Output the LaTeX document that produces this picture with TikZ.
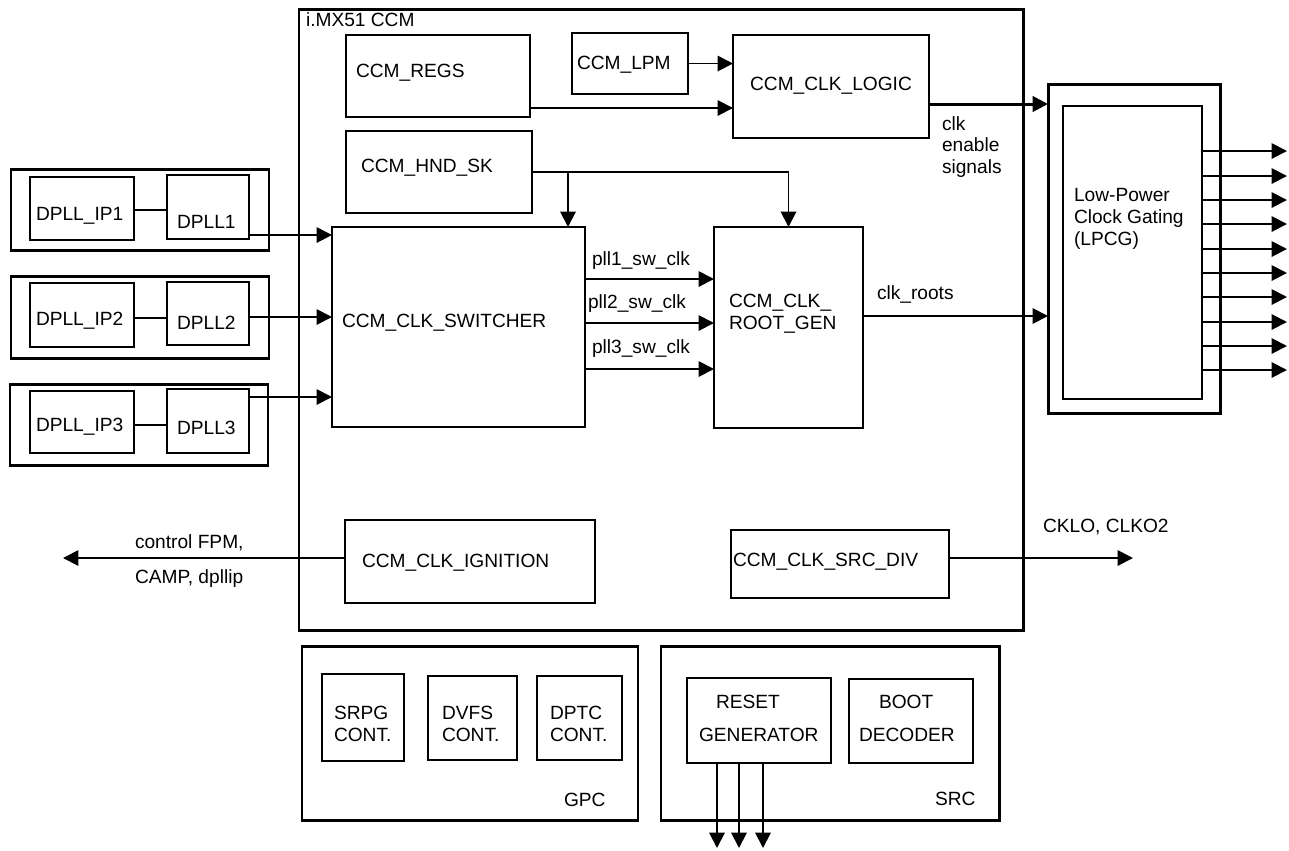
\documentclass[tikz,border=0pt]{standalone}
\usepackage{fontspec}
\setmainfont{Liberation Sans}
\usetikzlibrary{arrows.meta,fit}
\begin{document}
\begin{tikzpicture}[x=0.02cm,y=-0.02cm,
  every node/.style={font=\fontsize{10.9}{12.3}\selectfont, inner sep=0pt, outer sep=0pt},
  blk/.style={draw, line width=1.1pt, inner sep=0pt, outer sep=0pt},
  frame/.style={draw, line width=1.7pt, inner sep=0pt, outer sep=0pt},
  txt/.style={anchor=west, align=left},
  ln/.style={line width=1.1pt},
  arr/.style={line width=1.1pt, -{Triangle[length=0.31cm,width=0.31cm]}}]
\useasboundingbox (0,0) rectangle (1289,850);

% ---- CCM frame
\node[frame, fit={(299,9)(1023,630)}] (ccm) {};
\node[txt] (ccmlbl) at (306,20) {i.MX51 CCM};

\node[blk, fit={(346,35)(530,117)}] (regs) {};
\node[txt] (regst) at (356,73) {CCM\_REGS};
\node[blk, fit={(572,33)(688,94)}] (lpm) {};
\node[txt] (lpmt) at (577,65) {CCM\_LPM};
\node[blk, fit={(733,35)(929,138)}] (logic) {};
\node (logict) at (831,86) {CCM\_CLK\_LOGIC};
\node[blk, fit={(346,131)(532,213)}] (hnd) {};
\node[txt] (hndt) at (361,168) {CCM\_HND\_SK};
\node[blk, fit={(332,227)(585,427)}] (sw) {};
\node[txt] (swt) at (342,323) {CCM\_CLK\_SWITCHER};
\node[blk, fit={(714,227)(863,428)}] (root) {};
\node[txt, font=\fontsize{10.9}{12.6}\selectfont] (roott) at (729,314) {CCM\_CLK\_\\ROOT\_GEN};
\node[blk, fit={(345,520)(595,603)}] (ign) {};
\node[txt] (ignt) at (362,563) {CCM\_CLK\_IGNITION};
\node[blk, fit={(731,530)(949,598)}] (div) {};
\node[txt] (divt) at (733,562) {CCM\_CLK\_SRC\_DIV};

% ---- DPLL groups
\node[frame, fit={(11,169)(269,250)}] (g1) {};
\node[frame, fit={(11,276)(269,358)}] (g2) {};
\node[frame, fit={(10,384)(268,465)}] (g3) {};
\node[blk, fit={(30,177)(134,240)}] (ip1) {};
\node[blk, fit={(167,175)(249,239)}] (d1) {};
\node[blk, fit={(30,283)(134,347)}] (ip2) {};
\node[blk, fit={(167,282)(249,345)}] (d2) {};
\node[blk, fit={(30,391)(134,453)}] (ip3) {};
\node[blk, fit={(167,389)(249,453)}] (d3) {};
\node[txt] (ip1t) at (36,216) {DPLL\_IP1};
\node[txt] (d1t) at (177,222) {DPLL1};
\node[txt] (ip2t) at (36,321) {DPLL\_IP2};
\node[txt] (d2t) at (177,323) {DPLL2};
\node[txt] (ip3t) at (36,427) {DPLL\_IP3};
\node[txt] (d3t) at (177,428) {DPLL3};
\draw[ln] (ip1.east |- 0,210) -- (d1.west |- 0,210);
\draw[ln] (ip2.east |- 0,318) -- (d2.west |- 0,318);
\draw[ln] (ip3.east |- 0,425) -- (d3.west |- 0,425);
\draw[arr] (d1.east |- 0,235) -- (sw.west |- 0,235);
\draw[arr] (d2.east |- 0,317) -- (sw.west |- 0,317);
\draw[arr] (d3.east |- 0,397) -- (sw.west |- 0,397);

% ---- LPCG
\node[frame, fit={(1048,84)(1220,413)}] (lpcg) {};
\node[blk, fit={(1063,106)(1202,399)}] (lpcgin) {};
\node[txt, font=\fontsize{10.9}{12.4}\selectfont] (lpcgt) at (1074,219) {Low-Power\\Clock Gating\\(LPCG)};
\foreach \y in {151,176,200,224,249,273,297,322,346,370}
  \draw[arr] (lpcgin.east |- 0,\y) -- ++(85,0);

% ---- internal connectors
\draw[arr] (lpm.east) -- (lpm.east -| logic.west);
\draw[arr] (regs.east |- 0,108) -- (logic.west |- 0,108);
\draw[arr, line width=1.7pt] (logic.east |- 0,104) -- (lpcg.west |- 0,104);
\node[txt, font=\fontsize{10.9}{12.1}\selectfont] (clken) at (942,147) {clk\\enable\\signals};
\draw[arr] (hnd.east) -| (root.north);
\coordinate (br) at (568,172);
\draw[arr] (br) -- (br |- sw.north);
\foreach \y in {279,323,369}
  \draw[arr] (sw.east |- 0,\y) -- (root.west |- 0,\y);
\node[txt] (p1) at (592,261) {pll1\_sw\_clk};
\node[txt] (p2) at (588,304) {pll2\_sw\_clk};
\node[txt] (p3) at (592,349) {pll3\_sw\_clk};
\draw[arr] (root.east |- 0,316) -- (lpcg.west |- 0,316);
\node[txt] (rootsl) at (877,294) {clk\_roots};

\coordinate (ctl) at (63,558);
\draw[arr] (ign.west |- 0,558) -- (ctl);
\node[txt] (ctl1) at (135,543) {control FPM,};
\node[txt] (ctl2) at (135,579) {CAMP, dpllip};
\coordinate (cko) at (1133,558);
\draw[arr] (div.east |- 0,558) -- (cko);
\node[txt] (ckol) at (1043,527) {CKLO, CLKO2};

% ---- GPC
\node[frame, fit={(302,646)(638,820)}] (gpc) {};
\node[blk, fit={(322,674)(404,761)}] (srpg) {};
\node[blk, fit={(428,676)(517,760)}] (dvfs) {};
\node[blk, fit={(537,676)(622,760)}] (dptc) {};
\node[txt, font=\fontsize{10.9}{12.5}\selectfont] (srpgt) at (334,724) {SRPG\\CONT.};
\node[txt, font=\fontsize{10.9}{12.5}\selectfont] (dvfst) at (442,724) {DVFS\\CONT.};
\node[txt, font=\fontsize{10.9}{12.5}\selectfont] (dptct) at (550,724) {DPTC\\CONT.};
\node[txt] (gpct) at (564,800) {GPC};

% ---- SRC
\node[frame, fit={(661,646)(999,820)}] (src) {};
\node[blk, fit={(687,678)(831,763)}] (reset) {};
\node[blk, fit={(849,679)(973,763)}] (boot) {};
\node[txt] (rst1) at (716,702) {RESET};
\node[txt] (rst2) at (699,735) {GENERATOR};
\node[txt] (bt1) at (879,702) {BOOT};
\node[txt] (bt2) at (859,735) {DECODER};
\node[txt] (srct) at (935,799) {SRC};
\foreach \x in {717,739,763}
  \draw[arr] (reset.south -| \x,0) -- (\x,848);
\end{tikzpicture}
\end{document}
